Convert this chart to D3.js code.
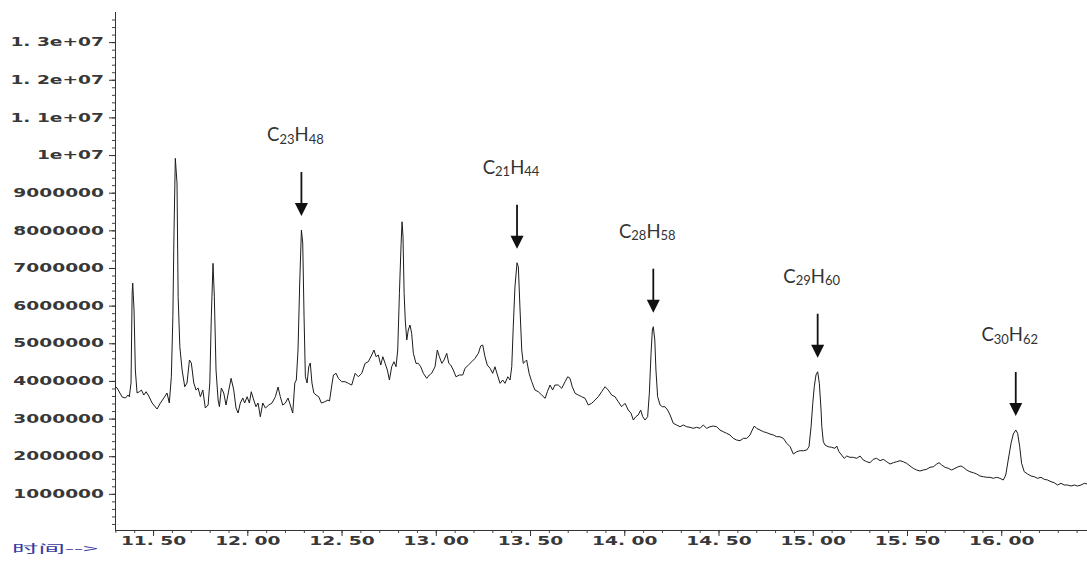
<!DOCTYPE html>
<html>
<head>
<meta charset="utf-8">
<script src="https://cdn.jsdelivr.net/npm/d3@7"></script>
<style>
  html, body { margin: 0; padding: 0; background: #fff; }
  svg { display: block; }
</style>
</head>
<body>
<svg id="chart" width="1087" height="562"></svg>
<script>
// Total ion chromatogram: [retention time (min), abundance]
const ticTrace = [
  [11.298,3865e3],[11.309,3811e3],[11.336,3572e3],[11.353,3546e3],[11.367,3625e3],[11.374,3580e3],[11.383,3944e3],[11.389,6335e3],[11.392,6600e3],[11.399,5883e3],[11.406,4289e3],[11.415,3679e3],[11.427,3713e3],[11.438,3758e3],[11.451,3625e3],[11.463,3713e3],[11.477,3599e3],[11.495,3413e3],
  [11.521,3254e3],[11.539,3413e3],[11.557,3546e3],[11.574,3679e3],[11.586,3413e3],[11.597,4111e3],[11.605,5705e3],[11.611,7928e3],[11.618,9912e3],[11.627,9256e3],[11.633,6236e3],[11.642,4908e3],[11.654,4289e3],[11.668,3846e3],[11.680,3944e3],[11.693,4555e3],[11.703,4475e3],[11.716,3944e3],[11.728,3758e3],[11.739,3811e3],[11.751,3580e3],[11.764,3758e3],[11.777,3280e3],[11.792,3360e3],
  [11.801,3944e3],[11.809,5705e3],[11.818,7123e3],[11.825,6236e3],[11.834,4289e3],[11.845,3493e3],[11.852,3315e3],[11.862,3811e3],[11.875,3679e3],[11.887,3360e3],[11.902,3758e3],[11.914,4069e3],[11.928,3758e3],[11.940,3280e3],[11.951,3147e3],[11.963,3413e3],[11.976,3546e3],[11.986,3413e3],[11.999,3580e3],
  [12.011,3413e3],[12.021,3713e3],[12.034,3493e3],[12.046,3315e3],[12.057,3413e3],[12.069,3049e3],[12.082,3413e3],[12.096,3280e3],[12.114,3360e3],[12.131,3413e3],[12.149,3580e3],[12.163,3838e3],[12.175,3580e3],[12.188,3360e3],[12.202,3413e3],[12.216,3546e3],[12.228,3360e3],[12.241,3147e3],[12.252,3944e3],[12.260,4024e3],[12.269,4821e3],[12.278,6600e3],[12.287,8008e3],[12.294,7663e3],
  [12.301,5705e3],[12.308,4111e3],[12.317,3944e3],[12.326,4377e3],[12.334,4475e3],[12.343,3944e3],[12.353,3679e3],[12.365,3625e3],[12.379,3580e3],[12.393,3413e3],[12.411,3447e3],[12.428,3493e3],[12.436,3466e3],[12.450,3944e3],[12.457,4157e3],[12.471,4202e3],[12.483,4069e3],[12.501,3979e3],[12.519,3979e3],[12.536,3936e3],[12.554,3891e3],[12.572,4202e3],[12.589,4111e3],[12.607,4202e3],[12.625,4467e3],[12.642,4510e3],[12.660,4688e3],[12.672,4821e3],[12.683,4643e3],[12.695,4688e3],[12.708,4422e3],[12.719,4643e3],[12.731,4467e3],[12.743,4289e3],[12.754,4024e3],[12.766,4377e3],[12.778,4510e3],[12.789,4377e3],[12.798,4821e3],[12.807,6327e3],[12.816,7655e3],[12.821,8228e3],[12.826,7830e3],[12.832,6327e3],[12.838,5617e3],[12.846,5086e3],[12.854,5352e3],[12.863,5485e3],[12.872,5264e3],[12.881,4733e3],[12.895,4467e3],[12.907,4467e3],[12.920,4377e3],[12.934,4202e3],[12.952,4069e3],[12.966,4157e3],[12.978,4202e3],[12.996,4377e3],
  [13.008,4821e3],[13.019,4643e3],[13.032,4467e3],[13.044,4555e3],[13.058,4733e3],[13.069,4467e3],[13.079,4422e3],[13.093,4289e3],[13.107,4111e3],[13.125,4157e3],[13.143,4157e3],[13.155,4335e3],[13.173,4422e3],[13.191,4510e3],[13.208,4600e3],[13.226,4733e3],[13.238,4927e3],[13.249,4953e3],[13.261,4643e3],[13.273,4422e3],[13.288,4335e3],[13.302,4202e3],[13.314,4377e3],[13.327,4157e3],[13.341,3936e3],[13.355,4024e3],[13.367,3936e3],[13.382,4111e3],[13.394,4024e3],[13.403,4377e3],[13.411,5440e3],[13.420,6502e3],[13.431,7139e3],[13.438,7033e3],[13.447,5883e3],[13.456,4821e3],[13.464,4467e3],[13.473,4510e3],[13.482,4555e3],[13.495,4202e3],
  [13.509,3979e3],[13.526,3758e3],[13.544,3713e3],[13.562,3625e3],[13.580,3538e3],[13.592,3713e3],[13.606,3891e3],[13.620,3758e3],[13.632,3891e3],[13.650,3891e3],[13.668,3803e3],[13.686,3979e3],[13.700,4111e3],[13.712,4069e3],[13.724,3846e3],[13.739,3671e3],[13.756,3625e3],[13.774,3580e3],[13.792,3538e3],[13.809,3360e3],[13.827,3405e3],[13.845,3493e3],[13.862,3580e3],[13.880,3713e3],[13.898,3846e3],[13.915,3758e3],[13.933,3625e3],[13.951,3580e3],[13.968,3447e3],[13.986,3315e3],
  [14.004,3405e3],[14.021,3227e3],[14.036,3139e3],[14.048,2961e3],[14.061,3049e3],[14.074,3094e3],[14.087,3227e3],[14.098,3049e3],[14.110,2961e3],[14.124,3049e3],[14.133,3671e3],[14.142,4733e3],[14.149,5352e3],[14.154,5440e3],[14.162,5086e3],[14.168,4289e3],[14.177,3580e3],[14.190,3360e3],[14.202,3315e3],[14.216,3315e3],[14.230,3227e3],[14.243,3094e3],[14.260,2874e3],[14.278,2829e3],[14.296,2783e3],[14.313,2829e3],[14.331,2783e3],[14.349,2768e3],[14.366,2741e3],[14.384,2768e3],[14.402,2741e3],[14.419,2829e3],[14.437,2741e3],[14.455,2783e3],[14.472,2802e3],[14.490,2783e3],
  [14.508,2696e3],[14.525,2651e3],[14.543,2608e3],[14.561,2563e3],[14.578,2475e3],[14.596,2430e3],[14.614,2412e3],[14.632,2475e3],[14.650,2475e3],[14.667,2563e3],[14.679,2696e3],[14.690,2802e3],[14.702,2741e3],[14.720,2696e3],[14.738,2651e3],[14.756,2624e3],[14.773,2590e3],[14.791,2563e3],[14.809,2518e3],[14.826,2518e3],[14.844,2475e3],[14.862,2343e3],[14.880,2252e3],[14.897,2058e3],[14.915,2119e3],[14.932,2146e3],[14.950,2146e3],[14.968,2165e3],[14.980,2252e3],[14.991,2783e3],
  [15.000,3405e3],[15.008,3846e3],[15.017,4157e3],[15.026,4244e3],[15.035,3936e3],[15.044,3227e3],[15.048,2783e3],[15.056,2385e3],[15.065,2297e3],[15.082,2252e3],[15.100,2236e3],[15.118,2210e3],[15.127,2271e3],[15.139,2119e3],[15.153,2032e3],[15.167,1944e3],[15.180,2005e3],[15.197,1971e3],[15.215,1971e3],[15.233,1944e3],[15.251,2005e3],[15.268,1899e3],[15.286,1854e3],[15.304,1827e3],[15.321,1918e3],[15.339,1944e3],[15.357,1880e3],[15.374,1918e3],[15.392,1854e3],[15.410,1793e3],[15.427,1827e3],[15.445,1854e3],[15.463,1880e3],[15.480,1854e3],[15.498,1811e3],
  [15.516,1740e3],[15.533,1679e3],[15.551,1633e3],[15.569,1607e3],[15.586,1633e3],[15.604,1652e3],[15.622,1705e3],[15.640,1721e3],[15.658,1793e3],[15.670,1827e3],[15.684,1766e3],[15.702,1705e3],[15.719,1679e3],[15.737,1633e3],[15.755,1679e3],[15.772,1721e3],[15.786,1740e3],[15.799,1705e3],[15.817,1633e3],[15.834,1588e3],[15.852,1562e3],[15.870,1527e3],[15.887,1474e3],[15.905,1455e3],[15.923,1440e3],[15.940,1440e3],[15.958,1413e3],[15.976,1440e3],[15.993,1413e3],
  [16.011,1368e3],[16.024,1501e3],[16.037,1899e3],[16.052,2343e3],[16.064,2590e3],[16.077,2696e3],[16.087,2608e3],[16.098,2252e3],[16.108,1811e3],[16.122,1588e3],[16.140,1527e3],[16.158,1474e3],[16.175,1455e3],[16.193,1413e3],[16.211,1440e3],[16.228,1386e3],[16.246,1368e3],[16.264,1323e3],[16.281,1296e3],[16.299,1235e3],[16.317,1280e3],[16.334,1235e3],[16.352,1235e3],[16.370,1208e3],[16.388,1235e3],[16.405,1208e3],[16.423,1235e3],[16.441,1280e3],[16.455,1262e3]
];

const xTickValues = [11.5, 12.0, 12.5, 13.0, 13.5, 14.0, 14.5, 15.0, 15.5, 16.0];
const xTickLabels = ["11. 50", "12. 00", "12. 50", "13. 00", "13. 50", "14. 00", "14. 50", "15. 00", "15. 50", "16. 00"];
const yTickValues = [1e6, 2e6, 3e6, 4e6, 5e6, 6e6, 7e6, 8e6, 9e6, 1e7, 1.1e7, 1.2e7, 1.3e7];
const yTickLabels = ["1000000", "2000000", "3000000", "4000000", "5000000", "6000000", "7000000", "8000000", "9000000", "1e+07", "1. 1e+07", "1. 2e+07", "1. 3e+07"];

// Identified alkanes and the retention time of the peak each one marks
const peakFormulas = ["C23H48", "C21H44", "C28H58", "C29H60", "C30H62"];
const peakTimes = [12.287, 13.431, 14.154, 15.026, 16.077];

const timeAxisTitle = "时间-->";

// ---- layout ----
const svg = d3.select("#chart");
const plotLeft = 115, plotRight = 1087, plotTop = 12, plotBottom = 531.5;
const axisFloor = 40000;          // abundance level where the time axis sits
const stretch = 1.62;             // wide instrument-style tick lettering
const tickFont = "'DejaVu Sans', sans-serif";
const tickInk = "#383838";

const x = d3.scaleLinear().domain([11.298, 16.455]).range([plotLeft, plotRight]);
const y = d3.scaleLinear().domain([0, 13.8e6]).range([plotBottom, plotTop]);
const axisY = y(axisFloor);

// ---- abundance axis ----
const yMinor = d3.range(2e5, 13.8e6, 2e5);
svg.append("g")
  .attr("transform", `translate(${plotLeft},0)`)
  .call(d3.axisLeft(y).tickValues(yMinor).tickSize(3).tickSizeOuter(0).tickFormat(""))
  .call(g => g.select(".domain").remove())
  .call(g => g.selectAll("line").attr("stroke", "#444"));

const yAxisG = svg.append("g")
  .attr("transform", `translate(${plotLeft},0)`)
  .call(d3.axisLeft(y).tickValues(yTickValues).tickSize(6).tickSizeOuter(0)
    .tickFormat((d, i) => yTickLabels[i]));
yAxisG.select(".domain").attr("stroke", "#333")
  .attr("d", `M0.5,${y.range()[1]}V${axisY}`);
yAxisG.selectAll("line").attr("stroke", "#333");
yAxisG.selectAll("text")
  .attr("x", 0).attr("dy", null).attr("y", 0)
  .attr("dominant-baseline", "central")
  .attr("transform", `translate(-11,0) scale(${stretch},1)`)
  .attr("font-family", tickFont).attr("font-size", 11.5).attr("font-weight", "bold")
  .attr("fill", tickInk).attr("text-anchor", "end");

// ---- time axis ----
const xMinor = d3.range(11.3, 16.45, 0.1);
svg.append("g")
  .attr("transform", `translate(0,${axisY})`)
  .call(d3.axisBottom(x).tickValues(xMinor).tickSize(3).tickSizeOuter(0).tickFormat(""))
  .call(g => g.select(".domain").remove())
  .call(g => g.selectAll("line").attr("stroke", "#444"));

const xAxisG = svg.append("g")
  .attr("transform", `translate(0,${axisY})`)
  .call(d3.axisBottom(x).tickValues(xTickValues).tickSize(6).tickSizeOuter(0)
    .tickFormat((d, i) => xTickLabels[i]));
xAxisG.select(".domain").attr("stroke", "#333")
  .attr("d", `M${plotLeft},0.5H${plotRight}`);
xAxisG.selectAll("line").attr("stroke", "#333");
xAxisG.selectAll("text")
  .attr("x", 0).attr("y", 0).attr("dy", null)
  .attr("transform", `translate(0,15.5) scale(${stretch},1)`)
  .attr("font-family", tickFont).attr("font-size", 11.5).attr("font-weight", "bold")
  .attr("fill", tickInk).attr("text-anchor", "middle");

svg.append("text")
  .attr("x", 12).attr("y", 553)
  .attr("font-family", "'Noto Sans CJK SC', 'DejaVu Sans', sans-serif")
  .attr("font-size", 11.5)
  .attr("textLength", 86)
  .attr("lengthAdjust", "spacingAndGlyphs")
  .attr("fill", "#3a3aa0")
  .text(timeAxisTitle);

// ---- chromatogram trace ----
const line = d3.line().x(d => x(d[0])).y(d => y(d[1]));
svg.append("path")
  .datum(ticTrace)
  .attr("fill", "none")
  .attr("stroke", "#1c1c1c")
  .attr("stroke-width", 1)
  .attr("stroke-linejoin", "round")
  .attr("d", line);

// ---- peak annotations: formula label + downward arrow ----
const annot = svg.append("g");
peakFormulas.forEach((formula, i) => {
  const t = peakTimes[i];
  const near = ticTrace.filter(d => Math.abs(d[0] - t) < 0.015);
  const apex = d3.max(near, d => d[1]);
  const ax = x(t);
  const tipY = y(apex) - 14;
  const topY = tipY - 44;
  const headH = 13, headW = 6.5;

  annot.append("line")
    .attr("x1", ax).attr("x2", ax)
    .attr("y1", topY).attr("y2", tipY - headH + 1)
    .attr("stroke", "#111").attr("stroke-width", 1.8);
  annot.append("path")
    .attr("d", `M${ax - headW},${tipY - headH}L${ax + headW},${tipY - headH}L${ax},${tipY}Z`)
    .attr("fill", "#111");

  const label = annot.append("text")
    .attr("x", ax - 6).attr("y", topY - 31)
    .attr("text-anchor", "middle")
    .attr("font-family", "Lato, 'Open Sans', sans-serif")
    .attr("font-size", 18.5)
    .attr("fill", "#333");
  const parts = formula.match(/[A-Z][a-z]?|\d+/g);
  let shifted = false;
  parts.forEach(p => {
    const isNum = /^\d+$/.test(p);
    const ts = label.append("tspan").text(p);
    if (isNum) {
      ts.attr("font-size", 13).attr("dy", 2.5);
      shifted = true;
    } else if (shifted) {
      ts.attr("dy", -2.5);
      shifted = false;
    }
  });
});
</script>
</body>
</html>
